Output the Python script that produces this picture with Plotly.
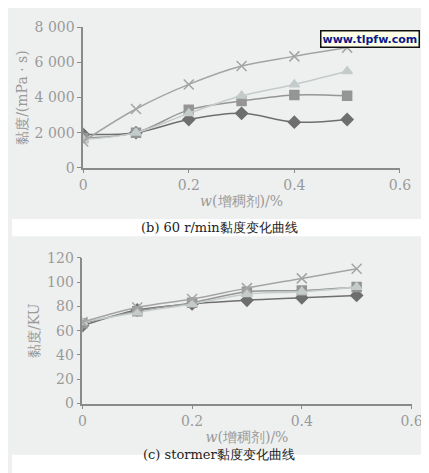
import plotly.graph_objects as go
from plotly.subplots import make_subplots

x = [0, 0.1, 0.2, 0.3, 0.4, 0.5]

# (b) 60 r/min viscosity, mPa·s
b_diamond = [1900, 2000, 2750, 3100, 2600, 2750]
b_square = [1700, 2000, 3300, 3800, 4150, 4100]
b_triangle = [1600, 2000, 3100, 4100, 4750, 5500]
b_cross = [1500, 3350, 4750, 5800, 6350, 6850]

# (c) stormer viscosity, KU
c_diamond = [64, 77, 82, 85, 87, 89]
c_square = [66, 76, 83, 92, 93, 96]
c_triangle = [67, 75, 82, 90, 92, 96]
c_cross = [67, 79, 86, 95, 103, 111]

series = [
    ("diamond", "#6e6e6e", b_diamond, c_diamond),
    ("square", "#959595", b_square, c_square),
    ("triangle-up", "#c4cccb", b_triangle, c_triangle),
    ("x-thin", "#a4a4a4", b_cross, c_cross),
]

fig = make_subplots(rows=2, cols=1)
for sym, col, yb, yc in series:
    for r, yy in ((1, yb), (2, yc)):
        fig.add_trace(go.Scatter(
            x=x, y=yy, mode="lines+markers",
            line=dict(color=col, width=1.5, shape="spline"),
            marker=dict(symbol=sym, size=9 if sym != "x-thin" else 10, color=col,
                        line=dict(color=col, width=1.5)),
            showlegend=False), row=r, col=1)

font = dict(family="DejaVu Serif", size=14, color="#9a9a9a")
ax = dict(showgrid=False, zeroline=False, showline=True, linecolor="#8a8a8a",
          linewidth=1.5, ticks="outside", ticklen=4, tickcolor="#8a8a8a", tickfont=font)

fig.update_xaxes(ax)
fig.update_yaxes(ax)
fig.update_xaxes(range=[0, 0.6], tickvals=[0, 0.2, 0.4, 0.6],
                 ticktext=["0", "0.2", "0.4", "0.6"], domain=[0.172, 0.937],
                 title=dict(text="<i>w</i>(增稠剂)/%", font=font, standoff=4), row=1, col=1)
fig.update_yaxes(range=[0, 8000], tickvals=[0, 2000, 4000, 6000, 8000],
                 ticktext=["0", "2 000", "4 000", "6 000", "8 000"], domain=[0.668, 0.975],
                 title=dict(text="黏度/(mPa · s)", font=font, standoff=4), row=1, col=1)
fig.update_xaxes(range=[0, 0.6], tickvals=[0, 0.2, 0.4, 0.6],
                 ticktext=["0", "0.2", "0.4", "0.6"], domain=[0.170, 0.965],
                 title=dict(text="<i>w</i>(增稠剂)/%", font=font, standoff=4), row=2, col=1)
fig.update_yaxes(range=[0, 120], dtick=20, domain=[0.152, 0.471],
                 title=dict(text="黏度/KU", font=font, standoff=4), row=2, col=1)

fig.add_shape(type="rect", xref="paper", yref="paper", x0=0, x1=1, y0=0.518, y1=0.556,
              fillcolor="white", line_width=0, layer="below")
fig.add_shape(type="rect", xref="paper", yref="paper", x0=0, x1=1, y0=0, y1=0.04,
              fillcolor="white", line_width=0, layer="below")
cap = dict(family="DejaVu Serif", size=13, color="#222222")
fig.add_annotation(text="(b) 60 r/min黏度变化曲线", xref="paper", yref="paper",
                   x=0.5, y=0.537, showarrow=False, font=cap)
fig.add_annotation(text="(c) stormer黏度变化曲线", xref="paper", yref="paper",
                   x=0.5, y=0.02, showarrow=False, font=cap)
fig.add_annotation(text="<b>www.tlpfw.com</b>", xref="paper", yref="paper",
                   x=0.985, y=0.97, xanchor="right", showarrow=False,
                   font=dict(family="DejaVu Sans", size=11, color="#0a1a8a"),
                   bgcolor="#ffffe8", bordercolor="#111111", borderwidth=1.5)

fig.update_layout(width=429, height=473, margin=dict(l=0, r=0, t=0, b=0),
                  paper_bgcolor="#eef0ef", plot_bgcolor="#eef0ef")
fig.write_html("out.html")
